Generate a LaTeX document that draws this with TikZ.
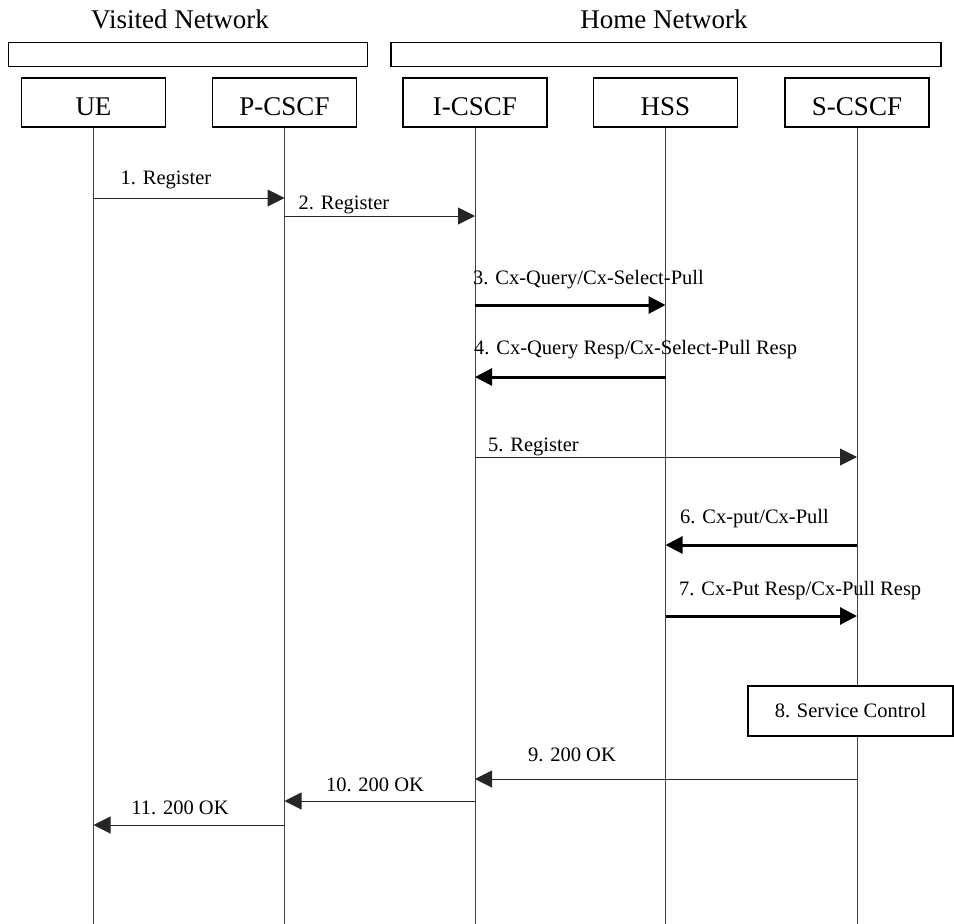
\documentclass[tikz,border=0pt]{standalone}
\usepackage{fontspec}
\setmainfont{Liberation Serif}
\usetikzlibrary{arrows.meta}
\begin{document}
\begin{tikzpicture}[x=1pt,y=-1pt,
  hdr/.style={font=\fontsize{27}{30}\selectfont},
  lbl/.style={font=\fontsize{20.5}{24}\selectfont, inner sep=0pt},
  ent/.style={draw=black, line width=1.2pt, minimum width=144pt, minimum height=49pt, inner sep=0pt, text height=25pt, text depth=0pt, font=\fontsize{27}{30}\selectfont},
  bar/.style={draw=black, line width=1.2pt},
  life/.style={draw=black!75, line width=1pt},
  thinmsg/.style={draw=black!85, line width=1pt, -{Triangle[length=17pt,width=17pt]}},
  thickmsg/.style={draw=black, line width=3pt, -{Triangle[length=17pt,width=17pt]}}]
\useasboundingbox (0,0) rectangle (954,924);
% network headers
\node[hdr] (vn) at (180,19) {Visited Network};
\node[hdr] (hn) at (664,19) {Home Network};
\draw[bar] (8.5,42.5) rectangle (367.5,66.5);
\draw[bar] (391,42.5) rectangle (941,66.5);
% entities
\node[ent] (ue) at (93.5,102.5) {UE};
\node[ent] (pc) at (284.5,102.5) {P-CSCF};
\node[ent] (ic) at (475,102.5) {I-CSCF};
\node[ent] (hss) at (665.5,102.5) {HSS};
\node[ent] (sc) at (857,102.5) {S-CSCF};
% lifeline ends
\coordinate (bot) at (0,924);
\foreach \n in {ue,pc,ic,hss,sc} {\draw[life] (\n.south) -- (\n.south |- bot);}
% message rows
\coordinate (y1) at (0,198);
\coordinate (y2) at (0,216);
\coordinate (y3) at (0,305);
\coordinate (y4) at (0,377);
\coordinate (y5) at (0,457);
\coordinate (y6) at (0,545);
\coordinate (y7) at (0,616);
\coordinate (y9) at (0,779);
\coordinate (y10) at (0,801);
\coordinate (y11) at (0,825);
\draw[thinmsg] (ue.south |- y1) -- (pc.south |- y1);
\node[lbl] (l1) at (166,180) {1. Register};
\draw[thinmsg] (pc.south |- y2) -- (ic.south |- y2);
\node[lbl] (l2) at (344,205) {2. Register};
\draw[thickmsg] (ic.south |- y3) -- (hss.south |- y3);
\node[lbl, anchor=west] (l3) at (473,280) {3. Cx-Query/Cx-Select-Pull};
\draw[thickmsg] (hss.south |- y4) -- (ic.south |- y4);
\node[lbl, anchor=west] (l4) at (474,350) {4. Cx-Query Resp/Cx-Select-Pull Resp};
\draw[thinmsg] (ic.south |- y5) -- (sc.south |- y5);
\node[lbl, anchor=west] (l5) at (488,447) {5. Register};
\draw[thickmsg] (sc.south |- y6) -- (hss.south |- y6);
\node[lbl, anchor=west] (l6) at (680,519) {6. Cx-put/Cx-Pull};
\draw[thickmsg] (hss.south |- y7) -- (sc.south |- y7);
\node[lbl, anchor=west] (l7) at (679,591) {7. Cx-Put Resp/Cx-Pull Resp};
\node[draw=black, line width=1.2pt, fill=white, minimum width=205pt, minimum height=50pt, inner sep=0pt, font=\fontsize{20.5}{24}\selectfont] (svc) at (850.5,711) {8. Service Control};
\draw[thinmsg] (sc.south |- y9) -- (ic.south |- y9);
\node[lbl] (l9) at (572,755) {9. 200 OK};
\draw[thinmsg] (ic.south |- y10) -- (pc.south |- y10);
\node[lbl] (l10) at (375,785) {10. 200 OK};
\draw[thinmsg] (pc.south |- y11) -- (ue.south |- y11);
\node[lbl] (l11) at (180,808) {11. 200 OK};
\end{tikzpicture}
\end{document}
